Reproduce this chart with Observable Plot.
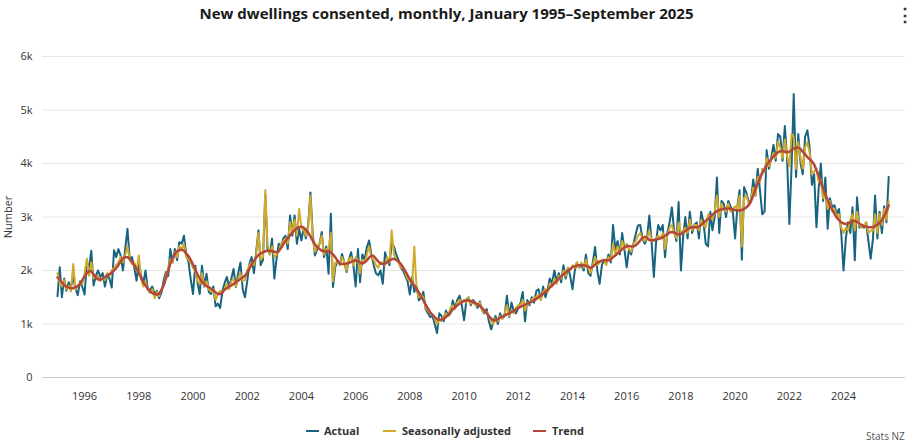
<!DOCTYPE html>
<html><head><meta charset="utf-8">
<script src="https://cdn.jsdelivr.net/npm/d3@7"></script>
<script src="https://cdn.jsdelivr.net/npm/@observablehq/plot@0.6"></script>
<style>
body{margin:0;width:913px;height:442px;overflow:hidden;background:#fff;font-family:"Open Sans",Lato,sans-serif;position:relative}
#title{height:26px;line-height:26px;text-align:center;font-weight:700;font-size:15px;color:#1a1a1a;padding-right:20px}
#menu{position:absolute;left:896px;top:2px;font-size:18px;font-weight:700;color:#333}
#chart{position:absolute;top:26px;left:0}
.lg{position:absolute;top:424px;font-size:11px;font-weight:700;color:#333;white-space:nowrap;line-height:14px}
.sw{position:absolute;top:430px;height:2px;width:13px}
#credit{position:absolute;left:866px;top:429px;font-size:10px;color:#555}
</style></head><body>
<div id="title">New dwellings consented, monthly, January 1995–September 2025</div>
<div id="menu">⋮</div>
<div id="chart"></div>
<div class="sw" style="left:306px;background:#18637f"></div><div class="lg" style="left:324px">Actual</div>
<div class="sw" style="left:383px;background:#d2aa2b"></div><div class="lg" style="left:402px">Seasonally adjusted</div>
<div class="sw" style="left:533px;background:#b4473a"></div><div class="lg" style="left:552px">Trend</div>
<div id="credit">Stats NZ</div>
<script>
const startYear = 1995, startMonth = 0;
const yTicks = [0, 1000, 2000, 3000, 4000, 5000, 6000];
const xTickYears = [1996,1998,2000,2002,2004,2006,2008,2010,2012,2014,2016,2018,2020,2022,2024];

const actual = [
// 1995
1520,2060,1500,1850,1620,1780,1690,1870,1660,1540,1800,1700,
// 1996
1550,2150,2060,2370,1720,1900,2000,1880,1950,1700,1920,1850,
// 1997
1680,2380,2250,2400,2280,2000,2400,2780,2190,2250,2060,1810,
// 1998
2150,1900,1750,2000,1660,1630,1700,1560,1620,1480,1580,1810,
// 1999
1970,1900,2400,2150,2400,2190,2530,2500,2650,2300,2160,1840,
// 2000
1560,2090,1780,1560,2090,1700,1940,1600,1560,1700,1330,1380,
// 2001
1300,1620,1760,1880,1700,1850,2030,1690,1950,2150,1650,1500,
// 2002
1800,2130,2250,1950,2350,2750,2100,2200,3420,2400,2300,2600,
// 2003
1850,2230,2500,2450,2600,2650,2400,3030,2650,3030,2500,2780,
// 2004
2560,2800,2600,2850,3460,2700,2280,2400,2500,2720,2250,2450,
// 2005
1940,3060,1690,2060,2190,2100,2310,2150,1970,2200,2340,2100,
// 2006
1700,2400,1780,2300,2200,2440,2560,2300,2100,1950,1910,2000,
// 2007
1750,2340,2200,2100,2500,2450,2300,2200,2050,2000,1900,1800,
// 2008
1550,1880,1600,1700,1440,1500,1600,1280,1200,1130,1150,1000,
// 2009
830,1200,1150,1050,1250,1150,1200,1440,1300,1450,1530,1350,
// 2010
1070,1450,1500,1350,1450,1400,1300,1420,1250,1200,1280,1050,
// 2011
900,1050,1150,1000,1200,1100,1150,1530,1130,1400,1250,1200,
// 2012
1300,1400,1600,1050,1450,1350,1500,1400,1620,1650,1450,1700,
// 2013
1500,1650,1850,1760,2000,1800,1950,1780,2100,1850,2050,1900,
// 2014
1650,2000,2150,2050,2100,2000,2300,1950,1900,2150,2440,2000,
// 2015
1750,2100,2200,2150,2300,2150,2850,2400,2550,2300,2700,2400,
// 2016
2060,2400,2300,2500,2680,2840,2850,2600,2500,2600,3030,2550,
// 2017
1880,2550,2850,2750,2850,2250,2700,2900,3180,2750,2550,3280,
// 2018
2000,2650,3000,2600,3100,2700,2850,2900,2600,3100,2900,2500,
// 2019
2450,3100,2750,3000,3740,2700,3300,3250,3000,3300,3200,3100,
// 2020
2600,3200,3500,2200,3560,3450,3300,3300,3700,3400,3900,3500,
// 2021
3050,3100,4250,3900,4100,4350,4050,4550,4500,4050,4700,4100,
// 2022
2870,4000,5300,3750,4550,4000,3800,4500,4620,4300,3600,3800,
// 2023
2810,3550,4000,3300,3740,2780,3350,3180,3220,3060,3150,2700,
// 2024
2000,2600,2900,2700,3180,2190,3370,2800,2850,2800,2900,2550,
// 2025
2220,2600,3400,2600,3100,2700,3200,2900,3750
];

const seasonallyAdjusted = [
// 1995
1950,1780,1700,1820,1650,1720,1610,2120,1640,1700,1780,1750,
// 1996
1950,2220,1900,2150,1850,1880,1900,1800,1850,1820,1950,1900,
// 1997
2000,2050,2100,2150,2250,2150,2280,2450,2200,2120,2150,2000,
// 1998
2280,1850,1700,1800,1640,1580,1650,1480,1600,1520,1650,1720,
// 1999
1900,2050,2200,2150,2350,2250,2450,2400,2500,2250,2200,2150,
// 2000
2050,2000,1800,1750,1950,1700,1800,1650,1600,1650,1450,1550,
// 2001
1620,1600,1650,1750,1650,1800,1850,1700,1850,1950,1800,1820,
// 2002
2000,2100,2150,2100,2300,2700,2200,2250,3500,2500,2300,2450,
// 2003
2250,2300,2350,2500,2550,2600,2500,2900,2700,2950,2650,3150,
// 2004
2800,2750,2650,2800,3400,2600,2350,2450,2500,2650,2300,2400,
// 2005
2400,2700,1800,2150,2150,2100,2250,2150,2000,2200,2250,2100,
// 2006
2250,2200,1950,2200,2150,2300,2450,2250,2200,2100,2050,2150,
// 2007
2150,2100,2250,2150,2750,2300,2200,2150,2050,2050,1950,1850,
// 2008
1800,1750,2450,1650,1500,1550,1500,1300,1250,1200,1180,1100,
// 2009
1000,1100,1050,1150,1200,1150,1300,1350,1280,1400,1450,1400,
// 2010
1450,1400,1500,1380,1420,1350,1350,1400,1250,1220,1230,1150,
// 2011
1050,1000,1100,1050,1150,1100,1200,1350,1150,1250,1200,1300,
// 2012
1350,1350,1450,1250,1400,1380,1450,1500,1500,1550,1450,1600,
// 2013
1650,1600,1750,1700,1850,1750,1900,1850,2000,1900,2050,2000,
// 2014
2100,2050,2150,2050,2150,2050,2200,2050,1950,2100,2250,2100,
// 2015
2150,2200,2200,2100,2250,2200,2500,2300,2450,2350,2550,2400,
// 2016
2500,2400,2350,2500,2550,2650,2700,2600,2550,2600,2750,2550,
// 2017
2550,2600,2650,2600,2700,2400,2650,2800,2850,2700,2600,2900,
// 2018
2700,2750,2800,2700,2950,2750,2850,2850,2750,2950,2850,2800,
// 2019
3050,3000,2950,3100,3400,3000,3250,3150,3100,3250,3100,3150,
// 2020
3200,3150,3400,2450,3350,3400,3250,3300,3550,3400,3750,3650,
// 2021
3900,3850,4100,3950,4050,4200,4100,4400,4300,4100,4450,4150,
// 2022
3950,4550,4500,3900,4400,4100,3900,4300,4400,4200,3800,3850,
// 2023
3900,3650,3700,3350,3450,3150,3300,3100,3150,3000,3050,2800,
// 2024
2700,2800,2750,2950,3050,2750,3100,2850,2800,2850,2900,2700,
// 2025
2750,2750,3050,2700,3050,2850,3150,2950,3300
];

const trend = [
// 1995
1870,1830,1780,1730,1700,1680,1670,1670,1690,1710,1750,1820,
// 1996
1890,1950,1990,1980,1930,1870,1830,1830,1850,1880,1910,1930,
// 1997
1960,2000,2040,2100,2170,2230,2250,2250,2220,2160,2100,2030,
// 1998
1950,1860,1780,1720,1660,1610,1580,1560,1550,1570,1630,1720,
// 1999
1850,1990,2130,2230,2310,2360,2380,2390,2370,2320,2270,2200,
// 2000
2110,2020,1930,1850,1790,1740,1710,1690,1660,1630,1590,1560,
// 2001
1560,1590,1640,1670,1700,1720,1750,1780,1810,1840,1870,1900,
// 2002
1960,2040,2110,2180,2240,2290,2320,2340,2360,2370,2370,2360,
// 2003
2350,2340,2360,2420,2490,2550,2600,2660,2710,2750,2790,2810,
// 2004
2820,2800,2760,2710,2640,2560,2490,2440,2400,2370,2360,2360,
// 2005
2360,2340,2300,2250,2180,2130,2120,2120,2130,2140,2160,2180,
// 2006
2190,2180,2150,2130,2150,2190,2240,2280,2270,2220,2170,2130,
// 2007
2120,2130,2160,2190,2210,2220,2200,2170,2120,2060,1990,1910,
// 2008
1840,1770,1720,1660,1590,1510,1440,1360,1290,1220,1170,1130,
// 2009
1090,1080,1080,1100,1130,1170,1220,1270,1310,1350,1380,1410,
// 2010
1430,1440,1440,1430,1410,1390,1370,1340,1300,1250,1200,1150,
// 2011
1100,1070,1070,1090,1120,1140,1160,1180,1200,1220,1240,1270,
// 2012
1300,1320,1340,1360,1380,1400,1420,1440,1470,1500,1530,1560,
// 2013
1600,1640,1680,1720,1760,1800,1850,1890,1930,1960,2000,2030,
// 2014
2060,2080,2090,2100,2100,2100,2090,2070,2050,2070,2110,2150,
// 2015
2170,2180,2190,2190,2190,2210,2250,2280,2320,2360,2400,2430,
// 2016
2450,2460,2450,2450,2470,2510,2560,2610,2630,2610,2570,2560,
// 2017
2570,2580,2590,2600,2620,2650,2680,2710,2720,2710,2690,2670,
// 2018
2680,2710,2740,2770,2800,2810,2810,2810,2820,2850,2890,2930,
// 2019
2960,3000,3040,3080,3110,3130,3140,3150,3160,3160,3150,3140,
// 2020
3130,3120,3120,3130,3150,3180,3220,3290,3400,3520,3630,3730,
// 2021
3820,3900,3970,4030,4080,4130,4170,4210,4230,4230,4220,4210,
// 2022
4220,4250,4280,4300,4300,4270,4220,4170,4120,4080,4040,3980,
// 2023
3880,3770,3650,3530,3420,3320,3220,3140,3060,2990,2940,2900,
// 2024
2880,2870,2880,2900,2920,2930,2910,2880,2850,2830,2820,2810,
// 2025
2810,2810,2830,2860,2890,2940,3010,3100,3220
];

const seriesNames = ["Actual", "Seasonally adjusted", "Trend"];
const colors = ["#18637f", "#d2aa2b", "#b4473a"];

const monthDate = i => new Date(startYear, startMonth + i, 1);
const toRows = (arr, name) => arr.map((v, i) => ({date: monthDate(i), value: v, series: name}));
const actualRows = toRows(actual, seriesNames[0]);
const saRows = toRows(seasonallyAdjusted, seriesNames[1]);
const trendRows = toRows(trend, seriesNames[2]);

const fmtY = d => d === 0 ? "0" : (d/1000) + "k";

const chart = Plot.plot({
  width: 913,
  height: 390,
  marginTop: 30,
  marginBottom: 39,
  marginLeft: 42,
  marginRight: 8,
  style: {fontFamily: "'Open Sans', Lato, sans-serif", fontSize: "11px", color: "#333", background: "#fff"},
  x: {type: "time", domain: [new Date(1994,5,13), new Date(2026,3,15)]},
  y: {domain: [0, 6000]},
  color: {domain: seriesNames, range: colors},
  marks: [
    Plot.gridY(yTicks.filter(d => d > 0), {stroke: "#e6e6e6", strokeOpacity: 1}),
    Plot.ruleY([0], {stroke: "#ccc"}),
    Plot.axisY({ticks: yTicks, tickFormat: fmtY, tickSize: 0, tickPadding: 10, fontSize: 11,
      label: "Number", labelAnchor: "center", labelArrow: "none", labelOffset: 38}),
    Plot.axisX({ticks: xTickYears.map(y => new Date(y,0,1)), tickFormat: d3.timeFormat("%Y"),
      tickSize: 0, tickPadding: 15, fontSize: 11, label: null}),
    Plot.line(actualRows, {x: "date", y: "value", stroke: "series", strokeWidth: 2}),
    Plot.line(saRows, {x: "date", y: "value", stroke: "series", strokeWidth: 2}),
    Plot.line(trendRows, {x: "date", y: "value", stroke: "series", strokeWidth: 2.5})
  ]
});
document.getElementById("chart").appendChild(chart);
</script>
</body></html>
